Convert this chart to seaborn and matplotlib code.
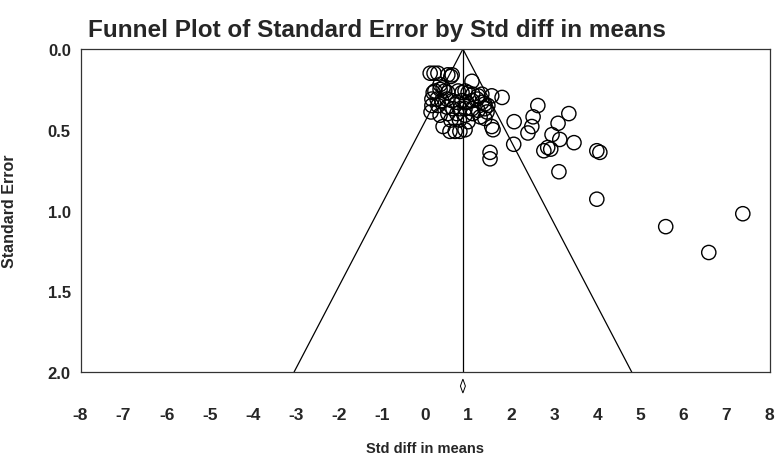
import numpy as np
import pandas as pd
import matplotlib
matplotlib.use('Agg')
import matplotlib.pyplot as plt
import seaborn as sns

# Studies: effect (Std diff in means) and standard error
std_diff = [0.12, 0.21, 0.30, 0.53, 0.63, 0.60, 1.09,
            0.19, 0.23, 0.35, 0.46, 0.53, 0.77, 0.86, 0.93, 1.00, 1.11, 1.23, 1.32, 1.55, 1.79,
            0.16, 0.28, 0.39, 0.51, 0.63, 0.74, 0.86, 0.97, 1.09, 1.21, 1.32, 1.39, 1.46,
            0.16, 0.30, 0.51, 0.65, 0.81, 0.93, 1.09, 1.23, 1.39, 1.44,
            0.35, 0.53, 0.74, 0.93, 1.11, 1.28, 1.39,
            0.42, 0.58, 0.70, 0.81, 0.93, 1.55, 1.58,
            1.51, 1.51,
            2.07, 2.62, 2.51, 2.48, 2.39, 3.34, 3.09, 2.95, 3.13, 2.85, 2.76, 2.92, 3.46,
            3.99, 4.06, 2.06, 3.11, 3.99, 5.59, 6.59, 7.38,
            0.14, 0.60, 0.80, 1.00, 0.35, 0.42]
std_err = [0.15, 0.15, 0.15, 0.16, 0.16, 0.17, 0.20,
           0.27, 0.26, 0.25, 0.26, 0.27, 0.26, 0.27, 0.26, 0.27, 0.28, 0.29, 0.28, 0.29, 0.30,
           0.31, 0.31, 0.32, 0.31, 0.32, 0.33, 0.32, 0.33, 0.32, 0.31, 0.33, 0.34, 0.35,
           0.35, 0.35, 0.36, 0.37, 0.37, 0.37, 0.37, 0.38, 0.37, 0.39,
           0.41, 0.40, 0.40, 0.41, 0.40, 0.42, 0.43,
           0.48, 0.51, 0.51, 0.51, 0.50, 0.48, 0.50,
           0.64, 0.68,
           0.45, 0.35, 0.42, 0.48, 0.52, 0.40, 0.46, 0.53, 0.56, 0.61, 0.63, 0.62, 0.58,
           0.63, 0.64, 0.59, 0.76, 0.93, 1.10, 1.26, 1.02,
           0.39, 0.44, 0.44, 0.45, 0.22, 0.24]

pooled = 0.88          # summary effect
se_max = 2.0
x_ticks = list(range(-8, 9))
y_ticks = [0.0, 0.5, 1.0, 1.5, 2.0]
y_tick_labels = ['0.0', '0.5', '1.0', '1.5', '2.0']

df = pd.DataFrame({'std_diff': std_diff, 'std_err': std_err})

sns.set_style('white')
plt.rcParams['font.family'] = ['Liberation Sans', 'DejaVu Sans']
plt.rcParams['font.weight'] = 'bold'

fig = plt.figure(figsize=(7.75, 4.64), dpi=100)
ax = fig.add_axes([80.5 / 775, 1 - 373 / 464, 689 / 775, 323 / 464])

# funnel (pseudo 95% limits) and the line at the pooled effect
ax.plot([pooled - 1.96 * se_max, pooled, pooled + 1.96 * se_max], [se_max, 0, se_max],
        color='black', lw=0.9)
ax.plot([pooled, pooled], [0, se_max], color='black', lw=0.9)

sns.scatterplot(data=df, x='std_diff', y='std_err', ax=ax, s=105,
                facecolor='none', edgecolor='black', linewidth=1.0, legend=False)

# summary diamond under the axis
dh, dw = 0.043, 0.058
ax.fill([pooled - dw, pooled, pooled + dw, pooled],
        [se_max + 0.087, se_max + 0.087 - dh, se_max + 0.087, se_max + 0.087 + dh],
        facecolor='white', edgecolor='black', lw=0.7, clip_on=False)

ax.set_xlim(-8, 8)
ax.set_ylim(se_max, 0)
ax.set_xticks(x_ticks)
ax.set_xticklabels([str(t) for t in x_ticks])
ax.set_yticks(y_ticks)
ax.set_yticklabels(y_tick_labels)
ax.tick_params(axis='x', direction='inout', length=6, width=0.8, pad=22, labelsize=12.5)
ax.tick_params(axis='y', direction='out', length=4, width=0.8, pad=3, labelsize=12)
for lab in ax.get_xticklabels() + ax.get_yticklabels():
    lab.set_fontweight('bold')

for sp in ax.spines.values():
    sp.set_color('#333333')
    sp.set_linewidth(0.9)

ax.set_xlabel('Std diff in means', fontsize=10.5, fontweight='bold', labelpad=14)
ax.set_ylabel('Standard Error', fontsize=11.5, fontweight='bold')
ax.yaxis.set_label_coords(-0.092, 0.5)

fig.text(88 / 775, 1 - 31 / 464, 'Funnel Plot of Standard Error by Std diff in means',
         fontsize=17.5, fontweight='bold', ha='left', va='center')

plt.savefig('out.png', dpi=100)
